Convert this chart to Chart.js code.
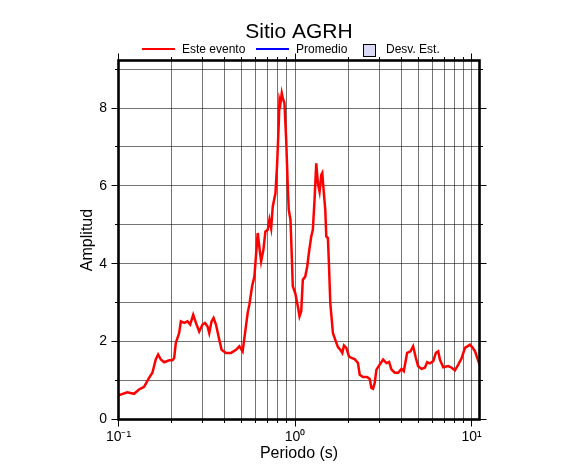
<!DOCTYPE html>
<html>
<head>
<meta charset="utf-8">
<script src="https://cdn.jsdelivr.net/npm/chart.js@4.4.1/dist/chart.umd.min.js"></script>
<style>
    body { margin: 0; background: #fff; }
    #wrap { position: relative; width: 586px; height: 475px; }
    .ley { position: absolute; font: 12px 'Liberation Sans', Arial, sans-serif; line-height: 12px; color: #000; white-space: nowrap; }
    .linea { position: absolute; height: 2px; width: 33px; }
    .caja { position: absolute; width: 11px; height: 11px; border: 1px solid #000; background: #dadaf6; }
</style>
</head>
<body>
<div id="wrap">
    <canvas id="espectro" width="586" height="475"></canvas>
    <!-- leyenda -->
    <div class="linea" style="left:142px; top:48px; background:#ff0000;"></div>
    <div class="ley" style="left:182px; top:43px;">Este evento</div>
    <div class="linea" style="left:256px; top:48px; background:#0000ff;"></div>
    <div class="ley" style="left:296px; top:43px;">Promedio</div>
    <div class="caja" style="left:363px; top:44px;"></div>
    <div class="ley" style="left:386px; top:43px;">Desv. Est.</div>
</div>
<script>
// datos del espectro (periodo en s, amplitud)
const periodo = [
    0.100, 0.112, 0.1225, 0.1307, 0.1396, 0.149, 0.1556, 0.1626, 0.1677, 0.1737,
    0.1814, 0.1936, 0.2022, 0.2067, 0.2113, 0.2206, 0.2256, 0.2356, 0.246, 0.2548,
    0.265, 0.2746, 0.2866, 0.2993, 0.309, 0.3196, 0.3267, 0.3368, 0.3457, 0.3566,
    0.3724, 0.3838, 0.4064, 0.434, 0.4634, 0.4838, 0.505, 0.5212, 0.5395, 0.5514,
    0.5713, 0.5888, 0.6146, 0.6343, 0.6427, 0.6622, 0.6799, 0.7007, 0.7164, 0.7326,
    0.7481, 0.7749, 0.7924, 0.8091, 0.8166, 0.8273, 0.8414, 0.8525, 0.8716, 0.8913,
    0.9101, 0.9221, 0.9427, 0.9589, 0.9716, 1.0026, 1.0373, 1.0607, 1.0845, 1.1075,
    1.1429, 1.1731, 1.20, 1.236, 1.2619, 1.2904, 1.3196, 1.3473, 1.3777, 1.4088,
    1.4271, 1.4517, 1.4845, 1.504, 1.5359, 1.556, 1.585, 1.640, 1.699, 1.751,
    1.807, 1.854, 1.894, 1.954, 2.022, 2.086, 2.178, 2.274, 2.326, 2.428,
    2.559, 2.65, 2.71, 2.767, 2.829, 2.893, 3.021, 3.155, 3.298, 3.412,
    3.521, 3.676, 3.838, 4.012, 4.135, 4.317, 4.514, 4.670, 4.839, 4.986,
    5.212, 5.442, 5.609, 5.810, 6.067, 6.285, 6.477, 6.622, 6.915, 7.383,
    7.719, 8.059, 8.414, 8.797, 9.185, 9.806, 10.16, 10.47, 10.93, 11.1
];
const amplitud = [
    0.62, 0.70, 0.66, 0.77, 0.84, 1.07, 1.20, 1.54, 1.67, 1.54,
    1.47, 1.52, 1.52, 1.58, 1.97, 2.22, 2.52, 2.48, 2.52, 2.44,
    2.69, 2.48, 2.26, 2.44, 2.48, 2.39, 2.22, 2.52, 2.61, 2.44,
    2.05, 1.79, 1.71, 1.71, 1.79, 1.88, 1.75, 2.22, 2.74, 2.95,
    3.42, 3.67, 4.79, 4.27, 4.06, 4.36, 4.83, 4.87, 5.13, 4.91,
    5.47, 5.81, 6.58, 7.61, 8.21, 8.12, 8.38, 8.25, 8.12, 7.18,
    5.98, 5.38, 5.13, 4.19, 3.42, 3.25, 2.91, 2.65, 2.78, 3.59,
    3.67, 3.93, 4.30, 4.70, 4.87, 5.64, 6.58, 6.07, 5.85, 6.28,
    6.33, 5.90, 5.38, 4.70, 4.66, 4.02, 2.99, 2.22, 2.02, 1.86,
    1.79, 1.71, 1.90, 1.84, 1.62, 1.58, 1.55, 1.45, 1.15, 1.09,
    1.09, 1.04, 0.81, 0.79, 0.94, 1.28, 1.41, 1.54, 1.45, 1.48,
    1.28, 1.20, 1.20, 1.30, 1.24, 1.71, 1.75, 1.88, 1.58, 1.37,
    1.30, 1.33, 1.47, 1.44, 1.50, 1.71, 1.75, 1.54, 1.34, 1.37,
    1.33, 1.26, 1.41, 1.58, 1.84, 1.92, 1.84, 1.75, 1.50, 1.42
];

// marcas de los ejes
const ticksPeriodo = [0.1, 0.2, 0.3, 0.4, 0.5, 0.6, 0.7, 0.8, 0.9, 1, 2, 3, 4, 5, 6, 7, 8, 9, 10];
const etiquetasPeriodo = { 0.1: '10\u207B\u00B9', 1: '10\u2070', 10: '10\u00B9' };
const ticksAmplitud = [0, 1, 2, 3, 4, 5, 6, 7, 8, 9];

const fuente = "'Liberation Sans', Arial, Helvetica, sans-serif";

// marco grueso y marcas por fuera en los cuatro lados
const marco = {
    id: 'marco',
    afterDraw(chart) {
        const { ctx, chartArea: a, scales: { x, y } } = chart;
        ctx.save();
        ctx.strokeStyle = '#000';
        ctx.lineWidth = 1;
        ctx.beginPath();
        ticksPeriodo.forEach(v => {
            const px = Math.round(x.getPixelForValue(v) - 0.5) + 0.5;
            const len = etiquetasPeriodo[v] ? 7 : 3.5;
            ctx.moveTo(px, a.bottom); ctx.lineTo(px, a.bottom + len);
            ctx.moveTo(px, a.top); ctx.lineTo(px, a.top - len);
        });
        ticksAmplitud.forEach(v => {
            const py = Math.round(y.getPixelForValue(v) - 0.5) + 0.5;
            const len = v % 2 === 0 ? 7 : 3.5;
            ctx.moveTo(a.left, py); ctx.lineTo(a.left - len, py);
            ctx.moveTo(a.right, py); ctx.lineTo(a.right + len, py);
        });
        ctx.stroke();
        ctx.lineWidth = 2.6;
        ctx.strokeRect(a.left, a.top, a.right - a.left, a.bottom - a.top);
        ctx.restore();
    }
};

const ctx = document.getElementById('espectro').getContext('2d');
new Chart(ctx, {
    type: 'scatter',
    data: {
        datasets: [{
            label: 'Este evento',
            data: periodo.map((p, i) => ({ x: p, y: amplitud[i] })),
            showLine: true,
            borderColor: '#ff0000',
            borderWidth: 2.5,
            pointRadius: 0,
            tension: 0
        }]
    },
    options: {
        responsive: false,
        animation: false,
        devicePixelRatio: 1,
        layout: { padding: { left: 0, right: 106.5, top: 0, bottom: 0 } },
        plugins: {
            legend: { display: false },
            tooltip: { enabled: false },
            title: {
                display: true,
                text: 'Sitio AGRH',
                fullSize: false,
                color: '#000',
                font: { family: fuente, size: 21, weight: 'normal' },
                padding: { top: 20, bottom: 15.3 }
            }
        },
        scales: {
            x: {
                type: 'logarithmic',
                min: 0.1,
                max: 11.1,
                afterBuildTicks: s => { s.ticks = ticksPeriodo.map(v => ({ value: v })); },
                afterFit: s => { s.height = 55.5; },
                grid: { color: 'rgba(0,0,0,0.55)', lineWidth: 1, drawTicks: false },
                border: { display: false },
                ticks: {
                    autoSkip: false,
                    maxRotation: 0,
                    padding: 9,
                    color: '#000',
                    font: { family: fuente, size: 14 },
                    callback: v => etiquetasPeriodo[v] || ''
                },
                title: {
                    display: true,
                    text: 'Periodo (s)',
                    color: '#000',
                    font: { family: fuente, size: 16 },
                    padding: { top: 0, bottom: 11.6 }
                }
            },
            y: {
                min: 0,
                max: 9.22,
                afterBuildTicks: s => { s.ticks = ticksAmplitud.map(v => ({ value: v })); },
                afterFit: s => { s.width = 118.5; },
                grid: { color: 'rgba(0,0,0,0.55)', lineWidth: 1, drawTicks: false },
                border: { display: false },
                ticks: {
                    autoSkip: false,
                    padding: 11.5,
                    color: '#000',
                    font: { family: fuente, size: 14 },
                    callback: v => (v % 2 === 0 ? String(v) : '')
                },
                title: {
                    display: true,
                    text: 'Amplitud',
                    color: '#000',
                    font: { family: fuente, size: 16 },
                    padding: { top: 78, bottom: 0 }
                }
            }
        }
    },
    plugins: [marco]
});
</script>
</body>
</html>
